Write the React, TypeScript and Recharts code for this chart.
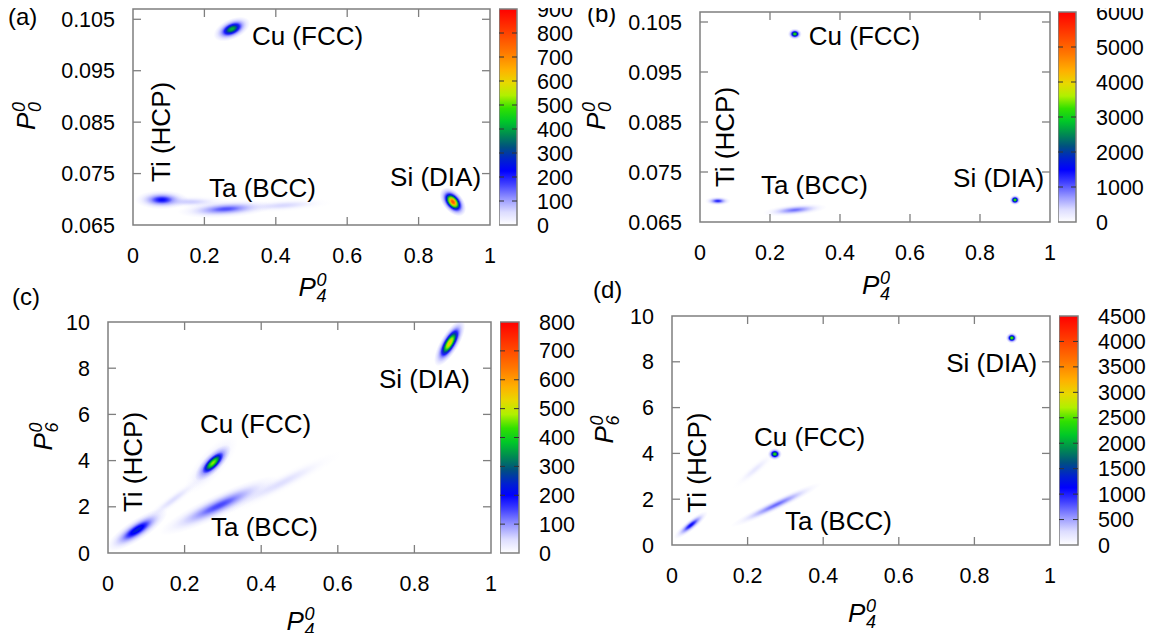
import { ScatterChart, Scatter, XAxis, YAxis, ReferenceArea, BarChart, Bar } from "recharts";

const FONT = "'Liberation Sans', Arial, Helvetica, sans-serif";
const FRAME = "#7f7f7f";
const TICK_FS = 21.5;

const xTicks = [0, 0.2, 0.4, 0.6, 0.8, 1];
const yTicksP0 = [0.065, 0.075, 0.085, 0.095, 0.105];
const yTicksP6 = [0, 2, 4, 6, 8, 10];

const cbTicksA = [0, 100, 200, 300, 400, 500, 600, 700, 800, 900];
const cbTicksB = [0, 1000, 2000, 3000, 4000, 5000, 6000];
const cbTicksC = [0, 100, 200, 300, 400, 500, 600, 700, 800];
const cbTicksD = [0, 500, 1000, 1500, 2000, 2500, 3000, 3500, 4000, 4500];

type Blob = { x: number; y: number; dx: number; dy: number; r: number; peak: number };
type Note = { text: string; x: number; y: number };

// density clusters: centre, major semi-axis (dx, dy) in data units, minor/major ratio, peak count
const blobsA: Blob[] = [
  { x: 0.16, y: 0.0695, dx: 0.11, dy: 0, r: 0.16, peak: 50 },
  { x: 0.42, y: 0.0688, dx: 0.14, dy: 0.0006, r: 0.13, peak: 40 },
  { x: 0.081, y: 0.0699, dx: 0.075, dy: 0, r: 0.36, peak: 220 },
  { x: 0.26, y: 0.0681, dx: 0.135, dy: 0.0006, r: 0.18, peak: 160 },
  { x: 0.277, y: 0.1031, dx: 0.05, dy: 0.0016, r: 0.52, peak: 420 },
  { x: 0.896, y: 0.0695, dx: 0.03, dy: -0.0025, r: 0.6, peak: 780 },
];
const blobsB: Blob[] = [
  { x: 0.051, y: 0.0692, dx: 0.037, dy: 0, r: 0.35, peak: 1300 },
  { x: 0.271, y: 0.0674, dx: 0.092, dy: 0.0006, r: 0.18, peak: 900 },
  { x: 0.271, y: 0.1026, dx: 0.02, dy: 0, r: 0.8, peak: 3200 },
  { x: 0.9, y: 0.0694, dx: 0.016, dy: 0, r: 0.9, peak: 3400 },
];
const blobsC: Blob[] = [
  { x: 0.17, y: 2.3, dx: 0.085, dy: 1.05, r: 0.16, peak: 30 },
  { x: 0.45, y: 3.0, dx: 0.16, dy: 1.35, r: 0.13, peak: 30 },
  { x: 0.27, y: 3.85, dx: 0.065, dy: 1.22, r: 0.35, peak: 60 },
  { x: 0.076, y: 1.0, dx: 0.078, dy: 0.84, r: 0.3, peak: 240 },
  { x: 0.29, y: 2.05, dx: 0.155, dy: 1.2, r: 0.18, peak: 150 },
  { x: 0.274, y: 3.9, dx: 0.044, dy: 0.73, r: 0.38, peak: 470 },
  { x: 0.892, y: 9.09, dx: 0.035, dy: 0.98, r: 0.35, peak: 560 },
];
const blobsD: Blob[] = [
  { x: 0.22, y: 3.3, dx: 0.06, dy: 0.84, r: 0.2, peak: 120 },
  { x: 0.05, y: 0.87, dx: 0.044, dy: 0.58, r: 0.26, peak: 1100 },
  { x: 0.275, y: 1.75, dx: 0.12, dy: 0.94, r: 0.12, peak: 700 },
  { x: 0.272, y: 3.97, dx: 0.019, dy: 0, r: 0.85, peak: 2400 },
  { x: 0.899, y: 9.04, dx: 0.016, dy: 0, r: 0.9, peak: 2600 },
];

const notesA: Note[] = [
  { text: "Cu (FCC)", x: 0.333, y: 0.1018 },
  { text: "Ti (HCP)", x: 0.078, y: 0.0831 },
  { text: "Ta (BCC)", x: 0.213, y: 0.0722 },
  { text: "Si (DIA)", x: 0.975, y: 0.0745 },
];
const notesB: Note[] = [
  { text: "Cu (FCC)", x: 0.311, y: 0.1022 },
  { text: "Ti (HCP)", x: 0.071, y: 0.082 },
  { text: "Ta (BCC)", x: 0.174, y: 0.0724 },
  { text: "Si (DIA)", x: 0.983, y: 0.0738 },
];
const notesC: Note[] = [
  { text: "Cu (FCC)", x: 0.24, y: 5.58 },
  { text: "Ti (HCP)", x: 0.065, y: 3.94 },
  { text: "Ta (BCC)", x: 0.269, y: 1.13 },
  { text: "Si (DIA)", x: 0.945, y: 7.53 },
];
const notesD: Note[] = [
  { text: "Cu (FCC)", x: 0.217, y: 4.72 },
  { text: "Ti (HCP)", x: 0.066, y: 3.6 },
  { text: "Ta (BCC)", x: 0.299, y: 1.05 },
  { text: "Si (DIA)", x: 0.966, y: 7.95 },
];

// gnuplot-like palette, fraction of colorbar max -> colour
const CMAP: [number, string][] = [
  [0, "#ffffff"], [0.06, "#dcdcff"], [0.12, "#9898ff"], [0.19, "#4040ff"], [0.25, "#0000ff"],
  [0.3, "#0020d0"], [0.36, "#005080"], [0.42, "#008c50"], [0.48, "#00c828"], [0.54, "#30e000"],
  [0.6, "#b0f000"], [0.66, "#e8d800"], [0.72, "#ffb000"], [0.8, "#ff7800"], [0.9, "#ff3c00"], [1, "#ff0000"],
];

function colorAt(f: number) {
  const t = Math.max(0, Math.min(1, f));
  for (let i = 1; i < CMAP.length; i++) {
    const [f1, c1] = CMAP[i];
    if (t <= f1) {
      const [f0, c0] = CMAP[i - 1];
      const u = (t - f0) / (f1 - f0);
      const a = parseInt(c0.slice(1), 16);
      const b = parseInt(c1.slice(1), 16);
      const ch = (s: number) => Math.round(((a >> s) & 255) * (1 - u) + ((b >> s) & 255) * u);
      return `rgb(${ch(16)},${ch(8)},${ch(0)})`;
    }
  }
  return CMAP[CMAP.length - 1][1];
}

const RINGS = [0, 0.1, 0.2, 0.3, 0.4, 0.5, 0.6, 0.7, 0.8, 0.9, 1];

function BlobShape(props: any) {
  const { cx, cy, payload, kx, ky, max, pid } = props;
  if (cx == null || cy == null) return null;
  const ax = payload.dx * kx;
  const ay = -payload.dy * ky;
  const len = Math.max(2, Math.hypot(ax, ay));
  const ang = (Math.atan2(ay, ax) * 180) / Math.PI;
  const gid = `${pid}-${payload.x}-${payload.y}`.replace(/\./g, "_");
  return (
    <g>
      <defs>
        <radialGradient id={gid}>
          {RINGS.map((t) => {
            const v = t >= 1 ? 0 : payload.peak * Math.exp(-4.6 * t * t);
            const f = v / max;
            const low = f < 0.12;
            return (
              <stop
                key={t}
                offset={t}
                stopColor={colorAt(low ? 0.12 : f)}
                stopOpacity={low ? f / 0.12 : 1}
              />
            );
          })}
        </radialGradient>
      </defs>
      <ellipse
        cx={cx}
        cy={cy}
        rx={len}
        ry={len * payload.r}
        transform={`rotate(${ang} ${cx} ${cy})`}
        fill={`url(#${gid})`}
      />
    </g>
  );
}

function NoteShape(props: any) {
  const { cx, cy, payload } = props;
  if (cx == null || cy == null) return null;
  const key = payload.text.slice(0, 2);
  const anchor = key === "Si" ? "end" : key === "Ti" ? "middle" : "start";
  return (
    <text
      x={cx}
      y={cy}
      dy="0.36em"
      textAnchor={anchor}
      fontFamily={FONT}
      fontSize={26}
      fill="#000"
      transform={key === "Ti" ? `rotate(-90 ${cx} ${cy})` : undefined}
    >
      {payload.text}
    </text>
  );
}

type Frame = { L: number; T: number; R: number; B: number };

function Panel({
  pid,
  frame,
  yDomain,
  yTicks,
  yFmt,
  blobs,
  notes,
  max,
}: {
  pid: string;
  frame: Frame;
  yDomain: [number, number];
  yTicks: number[];
  yFmt: (v: number) => string;
  blobs: Blob[];
  notes: Note[];
  max: number;
}) {
  const ML = 120;
  const MT = 20;
  const pw = frame.R - frame.L;
  const ph = frame.B - frame.T;
  const kx = pw;
  const ky = ph / (yDomain[1] - yDomain[0]);
  const pl = ML;
  const pr = ML + pw;
  const pt = MT;
  const pb = MT + ph;

  const XTick = (p: any) => {
    const v = p.payload.value;
    const inner = v > 0 && v < 1;
    return (
      <g>
        {inner && <line x1={p.x} x2={p.x} y1={pb} y2={pb - 8} stroke={FRAME} strokeWidth={1.3} />}
        {inner && <line x1={p.x} x2={p.x} y1={pt} y2={pt + 8} stroke={FRAME} strokeWidth={1.3} />}
        <text x={p.x} y={pb + 38} textAnchor="middle" fontFamily={FONT} fontSize={TICK_FS} fill="#000">
          {v}
        </text>
      </g>
    );
  };
  const YTick = (p: any) => {
    const v = p.payload.value;
    const inner = v > yDomain[0] && v < yDomain[1];
    return (
      <g>
        {inner && <line x1={pl} x2={pl + 8} y1={p.y} y2={p.y} stroke={FRAME} strokeWidth={1.3} />}
        {inner && <line x1={pr - 8} x2={pr} y1={p.y} y2={p.y} stroke={FRAME} strokeWidth={1.3} />}
        <text x={pl - 18} y={p.y + 7.5} textAnchor="end" fontFamily={FONT} fontSize={TICK_FS} fill="#000">
          {yFmt(v)}
        </text>
      </g>
    );
  };

  return (
    <div style={{ position: "absolute", left: frame.L - ML, top: frame.T - MT }}>
      <ScatterChart
        width={pw + ML + 20}
        height={ph + MT + 60}
        margin={{ top: MT, right: 20, bottom: 0, left: 0 }}
      >
        <XAxis
          type="number"
          dataKey="x"
          domain={[0, 1]}
          ticks={xTicks}
          interval={0}
          allowDataOverflow
          axisLine={false}
          tickLine={false}
          height={60}
          tick={XTick}
        />
        <YAxis
          type="number"
          dataKey="y"
          domain={yDomain}
          ticks={yTicks}
          interval={0}
          allowDataOverflow
          axisLine={false}
          tickLine={false}
          width={ML}
          tick={YTick}
        />
        <Scatter
          data={blobs}
          isAnimationActive={false}
          shape={(p: any) => <BlobShape {...p} kx={kx} ky={ky} max={max} pid={pid} />}
        />
        <Scatter data={notes} isAnimationActive={false} shape={NoteShape} />
        <ReferenceArea
          x1={0}
          x2={1}
          y1={yDomain[0]}
          y2={yDomain[1]}
          fill="none"
          fillOpacity={0}
          stroke={FRAME}
          strokeWidth={1.5}
          ifOverflow="visible"
        />
      </ScatterChart>
    </div>
  );
}

function ColorBar({
  cid,
  left,
  top,
  width,
  height,
  max,
  ticks,
}: {
  cid: string;
  left: number;
  top: number;
  width: number;
  height: number;
  max: number;
  ticks: number[];
}) {
  const data = [{ k: "cb", v: max }];
  const CbTick = (p: any) => {
    const v = p.payload.value;
    const inner = v > 0 && v < max;
    return (
      <g>
        {inner && <line x1={0} x2={5} y1={p.y} y2={p.y} stroke="#333" strokeWidth={1} />}
        {inner && <line x1={width - 5} x2={width} y1={p.y} y2={p.y} stroke="#333" strokeWidth={1} />}
        <text x={width + 20} y={p.y + 7.5} textAnchor="start" fontFamily={FONT} fontSize={TICK_FS} fill="#000">
          {v}
        </text>
      </g>
    );
  };
  return (
    <div style={{ position: "absolute", left, top: top - 15 }}>
      <BarChart
        width={width + 90}
        height={height + 30}
        data={data}
        margin={{ top: 15, right: 0, bottom: 15, left: 0 }}
        barCategoryGap={0}
      >
        <XAxis dataKey="k" hide />
        <YAxis
          orientation="right"
          type="number"
          domain={[0, max]}
          ticks={ticks}
          interval={0}
          width={90}
          axisLine={false}
          tickLine={false}
          tick={CbTick}
        />
        <Bar dataKey="v" fill={`url(#${cid})`} stroke={FRAME} strokeWidth={1.5} isAnimationActive={false} />
      </BarChart>
    </div>
  );
}

function AxisTitle({ x, y, sub, rotate }: { x: number; y: number; sub: string; rotate?: boolean }) {
  return (
    <g transform={`translate(${x} ${y})${rotate ? " rotate(-90)" : ""}`}>
      <text fontFamily={FONT} fontStyle="italic" fill="#000">
        <tspan x={-13} y={9} fontSize={26}>
          P
        </tspan>
        <tspan x={5} y={-1} fontSize={18}>
          0
        </tspan>
        <tspan x={5} y={15} fontSize={18}>
          {sub}
        </tspan>
      </text>
    </g>
  );
}

const fmt3 = (v: number) => v.toFixed(3);
const fmt0 = (v: number) => String(v);

const FA: Frame = { L: 133, T: 9, R: 490, B: 225 };
const FB: Frame = { L: 700, T: 12, R: 1050, B: 222 };
const FC: Frame = { L: 108, T: 322, R: 491, B: 553 };
const FD: Frame = { L: 672, T: 316, R: 1050, B: 545 };

export default function App() {
  return (
    <div style={{ position: "relative", width: 1159, height: 641, margin: -8, background: "#fff", overflow: "hidden" }}>
      <svg width={0} height={0} style={{ position: "absolute" }}>
        <defs>
          {["cbA", "cbB", "cbC", "cbD"].map((id) => (
            <linearGradient key={id} id={id} x1="0" y1="1" x2="0" y2="0">
              {CMAP.map(([f, c]) => (
                <stop key={f} offset={f} stopColor={c} />
              ))}
            </linearGradient>
          ))}
        </defs>
      </svg>

      <Panel pid="a" frame={FA} yDomain={[0.065, 0.107]} yTicks={yTicksP0} yFmt={fmt3} blobs={blobsA} notes={notesA} max={900} />
      <Panel pid="b" frame={FB} yDomain={[0.065, 0.107]} yTicks={yTicksP0} yFmt={fmt3} blobs={blobsB} notes={notesB} max={6000} />
      <Panel pid="c" frame={FC} yDomain={[0, 10]} yTicks={yTicksP6} yFmt={fmt0} blobs={blobsC} notes={notesC} max={800} />
      <Panel pid="d" frame={FD} yDomain={[0, 10]} yTicks={yTicksP6} yFmt={fmt0} blobs={blobsD} notes={notesD} max={4500} />

      <ColorBar cid="cbA" left={499} top={9} width={18} height={216} max={900} ticks={cbTicksA} />
      <ColorBar cid="cbB" left={1058} top={12} width={18} height={210} max={6000} ticks={cbTicksB} />
      <ColorBar cid="cbC" left={500} top={322} width={19} height={231} max={800} ticks={cbTicksC} />
      <ColorBar cid="cbD" left={1059} top={316} width={19} height={229} max={4500} ticks={cbTicksD} />

      <svg width={1159} height={641} style={{ position: "absolute", left: 0, top: 0, pointerEvents: "none" }}>
        <g fontFamily={FONT} fontSize={24} fill="#000">
          <text x={8} y={25}>(a)</text>
          <text x={587} y={22}>(b)</text>
          <text x={12} y={305}>(c)</text>
          <text x={593} y={298}>(d)</text>
        </g>
        <AxisTitle x={(FA.L + FA.R) / 2} y={FA.B + 62} sub="4" />
        <AxisTitle x={(FB.L + FB.R) / 2} y={FB.B + 63} sub="4" />
        <AxisTitle x={(FC.L + FC.R) / 2} y={FC.B + 68} sub="4" />
        <AxisTitle x={(FD.L + FD.R) / 2} y={FD.B + 68} sub="4" />
        <AxisTitle x={26} y={(FA.T + FA.B) / 2} sub="0" rotate />
        <AxisTitle x={596} y={(FB.T + FB.B) / 2} sub="0" rotate />
        <AxisTitle x={43} y={(FC.T + FC.B) / 2} sub="6" rotate />
        <AxisTitle x={604} y={(FD.T + FD.B) / 2} sub="6" rotate />
      </svg>
    </div>
  );
}
